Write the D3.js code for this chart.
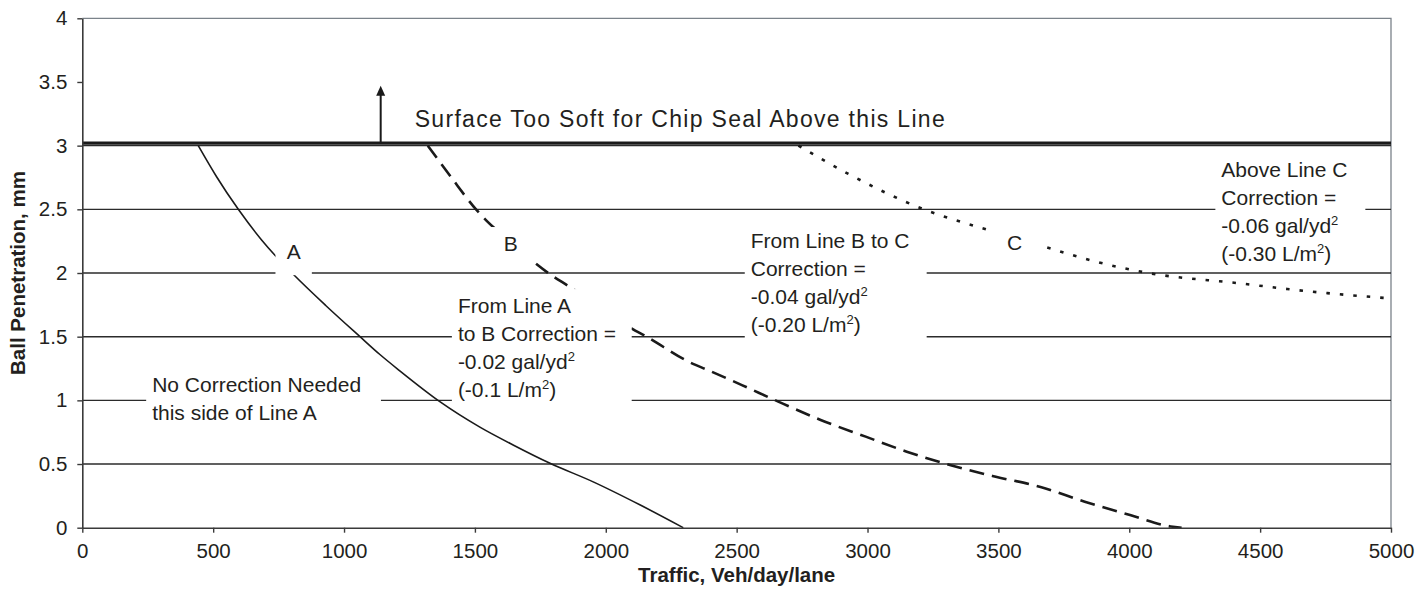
<!DOCTYPE html>
<html>
<head>
<meta charset="utf-8">
<script src="https://cdn.jsdelivr.net/npm/d3@7"></script>
<style>
  html, body { margin: 0; padding: 0; background: #fff; }
  svg { display: block; }
  text { font-family: "Liberation Sans", Arial, Helvetica, sans-serif; fill: #231f20; }
</style>
</head>
<body>
<svg id="chart" width="1427" height="593"></svg>
<script>
// Axis ticks
const xTicks = [0, 500, 1000, 1500, 2000, 2500, 3000, 3500, 4000, 4500, 5000];
const yTicks = [0, 0.5, 1, 1.5, 2, 2.5, 3, 3.5, 4];
const gridLevels = [0.5, 1, 1.5, 2, 2.5, 3];

// Line A (solid): traffic vs. ball penetration
const lineA_x = [443, 513, 596, 685, 736, 806, 930, 1061, 1137, 1213, 1366, 1519, 1646, 1787, 1952, 2130, 2296];
const lineA_y = [3.0, 2.756, 2.5, 2.26, 2.14, 1.99, 1.745, 1.50, 1.36, 1.232, 0.99, 0.79, 0.65, 0.506, 0.36, 0.18, 0.0];

// Line B (dashed)
const lineB_x = [1320, 1410, 1506, 1545, 1640, 1729, 1780, 1863, 1980, 2098, 2156, 2320, 2393, 2520, 2659, 2821, 2993, 3150, 3318, 3490, 3661, 3830, 4003, 4158, 4200];
const lineB_y = [3.0, 2.75, 2.495, 2.41, 2.24, 2.08, 2.0, 1.89, 1.73, 1.566, 1.5, 1.30, 1.235, 1.12, 0.99, 0.846, 0.715, 0.597, 0.49, 0.40, 0.32, 0.204, 0.1, 0.01, 0.0];

// Line C (dotted)
const lineC_x = [2736, 2925, 3215, 3482, 3670, 3870, 4073, 4416, 4700, 5000];
const lineC_y = [3.0, 2.78, 2.5, 2.325, 2.21, 2.09, 2.0, 1.92, 1.853, 1.80];

// Upper limit for chip seal and its arrow
const softLimit = 3.02;
const arrowX = 1140;
const arrowTop = 3.47;

// Text labels
const titleX = "Traffic, Veh/day/lane";
const titleY = "Ball Penetration, mm";
const limitLabel = "Surface Too Soft for Chip Seal Above this Line";
const limitLabelX = 1270;
const limitLabelY = 3.15;

// Boxed notes (white background), region in data units
const notes = [
  { lines: ["No Correction Needed", "this side of Line A"], x0: 244, x1: 1141, yTop: 1.254, yBot: 0.775 },
  { lines: ["From Line A", "to B Correction =", "-0.02 gal/yd^2", "(-0.1 L/m^2)"], x0: 1412, x1: 2099, yTop: 1.874, yBot: 0.955 },
  { lines: ["From Line B to C", "Correction =", "-0.04 gal/yd^2", "(-0.20 L/m^2)"], x0: 2531, x1: 3226, yTop: 2.385, yBot: 1.466 },
  { lines: ["Above Line C", "Correction =", "-0.06 gal/yd^2", "(-0.30 L/m^2)"], x0: 4329, x1: 4902, yTop: 2.942, yBot: 2.023 }
];
const curveTags = [
  { text: "A", x0: 738, x1: 877, yTop: 2.298, yBot: 1.983, cx: 808 },
  { text: "B", x0: 1546, x1: 1729, yTop: 2.361, yBot: 2.079, cx: 1637 },
  { text: "C", x0: 3482, x1: 3669, yTop: 2.367, yBot: 2.085, cx: 3562 }
];

const svg = d3.select("#chart");
const margin = { left: 82.3, right: 1391, top: 18.3, bottom: 527.7 };
const fs = 20.5;      // tick labels, titles
const noteFs = 21;    // annotation text

const x = d3.scaleLinear().domain([0, 5000]).range([margin.left, margin.right]);
const y = d3.scaleLinear().domain([0, 4]).range([margin.bottom, margin.top]);

svg.append("rect").attr("width", 1427).attr("height", 593).attr("fill", "#fff");

// plot frame (top and right)
svg.append("path")
  .attr("d", `M${x(0)},${y(4)}H${x(5000)}V${y(0)}`)
  .attr("fill", "none").attr("stroke", "#7b838a").attr("stroke-width", 1.3);

// horizontal gridlines
svg.append("g").selectAll("line").data(gridLevels).join("line")
  .attr("x1", x(0)).attr("x2", x(5000))
  .attr("y1", d => y(d)).attr("y2", d => y(d))
  .attr("stroke", "#2b2b2b").attr("stroke-width", 1.4);

// soft-surface limit
svg.append("line")
  .attr("x1", x(0)).attr("x2", x(5000))
  .attr("y1", y(softLimit)).attr("y2", y(softLimit))
  .attr("stroke", "#1a1a1a").attr("stroke-width", 3.4);

const toPts = (xs, ys) => xs.map((v, i) => [v, ys[i]]);
const line = d3.line().x(d => x(d[0])).y(d => y(d[1])).curve(d3.curveMonotoneX);

svg.append("path").attr("d", line(toPts(lineA_x, lineA_y)))
  .attr("fill", "none").attr("stroke", "#1a1a1a").attr("stroke-width", 1.6);
svg.append("path").attr("d", line(toPts(lineB_x, lineB_y)))
  .attr("fill", "none").attr("stroke", "#1a1a1a").attr("stroke-width", 2.6)
  .attr("stroke-dasharray", "15,8");
svg.append("path").attr("d", line(toPts(lineC_x, lineC_y)))
  .attr("fill", "none").attr("stroke", "#1a1a1a").attr("stroke-width", 2.6)
  .attr("stroke-dasharray", "3.5,10");

// writes one line of text, turning "^2" into a superscript
function writeLine(sel, str) {
  const parts = str.split(/\^(\d)/);
  let shift = 0;
  parts.forEach((p, i) => {
    if (!p) return;
    if (i % 2 === 1) {
      sel.append("tspan").attr("dy", -8).attr("font-size", 13).text(p);
      shift = 8;
    } else {
      sel.append("tspan").attr("dy", shift).text(p);
      shift = 0;
    }
  });
}

// boxed notes
notes.forEach(n => {
  const g = svg.append("g");
  g.append("rect")
    .attr("x", x(n.x0)).attr("y", y(n.yTop))
    .attr("width", x(n.x1) - x(n.x0)).attr("height", y(n.yBot) - y(n.yTop))
    .attr("fill", "#fff");
  n.lines.forEach((l, i) => {
    const t = g.append("text")
      .attr("x", x(n.x0) + 6).attr("y", y(n.yTop) + 24 + i * 28)
      .attr("font-size", noteFs);
    writeLine(t, l);
  });
});

curveTags.forEach(n => {
  svg.append("rect")
    .attr("x", x(n.x0)).attr("y", y(n.yTop))
    .attr("width", x(n.x1) - x(n.x0)).attr("height", y(n.yBot) - y(n.yTop))
    .attr("fill", "#fff");
  svg.append("text").attr("x", x(n.cx)).attr("y", y(n.yTop) + 24)
    .attr("text-anchor", "middle").attr("font-size", noteFs).text(n.text);
});

// limit label and arrow
svg.append("text").attr("x", x(limitLabelX)).attr("y", y(limitLabelY))
  .attr("font-size", 23)
  .attr("textLength", 530).attr("lengthAdjust", "spacing")
  .text(limitLabel);
svg.append("line")
  .attr("x1", x(arrowX)).attr("x2", x(arrowX))
  .attr("y1", y(softLimit)).attr("y2", y(arrowTop) + 8)
  .attr("stroke", "#1a1a1a").attr("stroke-width", 2);
svg.append("path")
  .attr("d", `M${x(arrowX)},${y(arrowTop)}l-4.5,10h9z`)
  .attr("fill", "#1a1a1a");

// axes
const xAxis = d3.axisBottom(x).tickValues(xTicks).tickSize(5).tickPadding(11).tickSizeOuter(0)
  .tickFormat(d => String(d));
const yAxis = d3.axisLeft(y).tickValues(yTicks).tickSize(5).tickPadding(10).tickSizeOuter(0)
  .tickFormat(d => String(d));

const gx = svg.append("g").attr("transform", `translate(0,${y(0)})`).call(xAxis);
const gy = svg.append("g").attr("transform", `translate(${x(0)},0)`).call(yAxis);
[gx, gy].forEach(g => {
  g.select(".domain").attr("stroke", "#3a3a3a").attr("stroke-width", 1.6);
  g.selectAll(".tick line").attr("stroke", "#3a3a3a").attr("stroke-width", 1.4);
  g.selectAll(".tick text").attr("font-size", fs)
    .attr("font-family", '"Liberation Sans", Arial, sans-serif').attr("fill", "#231f20");
});

// axis titles
svg.append("text").attr("x", (x(0) + x(5000)) / 2).attr("y", 582)
  .attr("text-anchor", "middle").attr("font-size", fs).attr("font-weight", "bold").text(titleX);
svg.append("text")
  .attr("transform", `translate(25,${(y(0) + y(4)) / 2}) rotate(-90)`)
  .attr("text-anchor", "middle").attr("font-size", fs).attr("font-weight", "bold").text(titleY);
</script>
</body>
</html>
